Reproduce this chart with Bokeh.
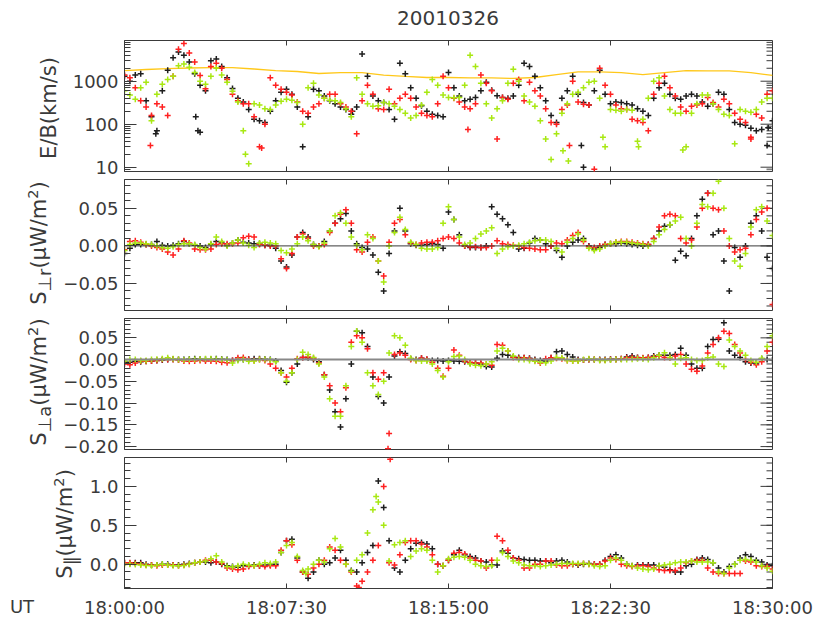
import math
from bokeh.plotting import figure
from bokeh.models import Range1d, FixedTicker, Span, Div
from bokeh.layouts import column, row
from bokeh.embed import file_html
from bokeh.resources import INLINE

# ---------------- data (minutes after 18:00:00 UT) ----------------
minutes = [i * 0.25 for i in range(121)]
x_tick_values = [0, 7.5, 15, 22.5, 30]
x_tick_labels = ["18:00:00", "18:07:30", "18:15:00", "18:22:30", "18:30:00"]

yellow_minutes = list(range(31))
eb_yellow = [1770, 1870, 1970, 2030, 2080, 2080, 1920, 1770, 1680, 1510,
             1590, 1590, 1390, 1290, 1220, 1220, 1190, 1190, 1160, 1220,
             1430, 1640, 1640, 1590, 1430, 1590, 1770, 1730, 1730, 1590, 1360]

eb_green = [600, 480, 380, 700, 950, 120, 500, 850,
            1100, 1300, 2300, 2500, 2100, 1600, 1000, 850,
            1300, 2000, 1400, 950, 580, 330, 70, 12,
            300, 280, 230, 220, 280, 340, 380, 360,
            320, 100, 700, 900, 480, 400, 360, 350,
            320, 230, 150, 1200, 500, 300, 260, 270,
            320, 300, 260, 220, 180, 140, 160, 280,
            550, 1100, 800, 480, 420, 410, 420, 800,
            4000, 2200, 900, 300, 140, 230, 350, 900,
            1900, 1000, 450, 330, 260, 120, 45, 15,
            60, 180, 300, 500, 550, 700, 950, 1000,
            400, 30, 220, 210, 200, 220, 210, 40,
            130, 400, 1000, 1200, 450, 220, 180, 180,
            30, 180, 300, 480, 480, 300, 220, 170,
            160, 35, 220, 200, 190, 220, 330, 400,
            400]
eb_black = [1300, 1000, 1400, 1500, 350, 150, 70, 600,
            1800, 3500, 4800, 4000, 2800, 1500, 800, 600,
            3000, 3300, 2200, 1200, 680, 400, 330, 220,
            130, 120, 110, 200, 350, 550, 650, 500,
            250, 30, 150, 650, 600, 450, 350, 300,
            250, 220, 170, 250, 4300, 1300, 450, 350,
            320, 220, 130, 2600, 1500, 700, 400, 270,
            200, 170, 160, 150, 1600, 700, 450, 350,
            380, 420, 600, 950, 620, 460, 420, 400,
            450, 800, 2600, 2200, 1300, 700, 350, 160,
            110, 400, 600, 1300, 500, 320, 280, 600,
            1800, 500, 300, 330, 320, 300, 280, 230,
            200, 160, 400, 700, 900, 500, 400, 380,
            450, 500, 450, 330, 260, 300, 550, 500,
            220, 110, 100, 95, 80, 70, 75, 32,
            120]
eb_red = [1400, 1200, 700, 350, 250, 160, 300, 250,
          160, 1300, 5500, 7500, 4500, 2800, 1350, 670,
          2200, 2600, 2000, 1100, 500, 350, 300, 300,
          150, 30, 100, 1200, 800, 650, 550, 480,
          330, 200, 180, 250, 300, 400, 500, 500,
          300, 250, 200, 60, 350, 800, 500, 230,
          220, 650, 300, 400, 500, 400, 250, 180,
          160, 150, 300, 1300, 700, 400, 330, 250,
          230, 300, 1400, 900, 600, 45, 420, 380,
          900, 1100, 350, 950, 600, 450, 230, 110,
          100, 220, 280, 1000, 330, 290, 280, 9,
          2000, 800, 500, 280, 230, 220, 130, 120,
          110, 70, 500, 900, 1300, 700, 450, 250,
          200, 260, 280, 300, 420, 320, 250, 380,
          300, 180, 130, 110, 50, 170, 140, 500,
          600]
eb_black_extra_min = [1.45, 3.3, 3.4, 3.5, 10.55, 21.15, 21.25, 29.8]
eb_black_extra = [60, 150, 70, 65, 200, 32, 10, 83]
eb_red_extra_min = [1.2, 15.9, 20.6, 29.0, 6.35]
eb_red_extra = [32, 75, 32, 45, 28]
eb_green_extra_min = [5.6, 20.3, 20.55, 22.15, 23.8, 25.85]
eb_green_extra = [20, 24, 14, 50, 30, 25]

sr_green = [-0.006, 0.002, 0.004, 0.004, 0.003, 0.002, 0.0, -0.002,
            -0.003, -0.001, 0.002, 0.003, 0.003, 0.002, -0.002, -0.004,
            0.003, 0.012, 0.006, 0.0, 0.004, 0.008, 0.004, 0.001,
            -0.002, 0.004, 0.005, 0.004, 0.003, -0.006, -0.009, -0.004,
            0.003, 0.012, 0.007, 0.002, -0.001, 0.004, 0.02, 0.04,
            0.044, 0.03, 0.012, 0.001, -0.005, 0.015, 0.01, -0.02,
            -0.048, 0.0, 0.018, 0.038, 0.022, 0.005, 0.002, -0.003,
            -0.004, -0.004, -0.002, 0.03, 0.052, 0.035, 0.012, 0.002,
            0.004, 0.01, 0.016, 0.02, 0.024, -0.01, -0.004, -0.001,
            0.0, 0.001, 0.003, 0.005, 0.007, 0.008, 0.008, 0.006,
            -0.003, -0.008, 0.005, 0.01, 0.016, 0.008, -0.003, -0.006,
            -0.004, 0.0, 0.003, 0.005, 0.005, 0.005, 0.004, 0.003,
            0.002, 0.0, 0.006, 0.015, 0.022, 0.028, 0.033, 0.038,
            0.01, 0.0, 0.03, 0.055, 0.052, 0.07, 0.086, 0.05,
            0.01, -0.02, -0.027, -0.01, 0.025, 0.048, 0.052, 0.033,
            0.014]
sr_black = [-0.01, -0.003, 0.002, 0.002, 0.002, 0.002, 0.006, 0.001,
            0.0, 0.001, 0.003, 0.006, 0.003, 0.001, 0.0, -0.002,
            0.002, 0.006, 0.004, 0.001, 0.004, 0.008, 0.005, 0.004,
            0.003, 0.003, 0.001, 0.001, -0.003, -0.02, -0.028, -0.012,
            0.012, 0.018, 0.012, 0.002, 0.0, 0.006, 0.02, 0.03,
            0.036, 0.043, 0.02, 0.003, -0.002, -0.004, -0.012, -0.035,
            -0.06, -0.01, 0.02, 0.05, 0.02, 0.003, 0.001, 0.001,
            0.002, 0.003, 0.002, -0.003, 0.045, 0.035, 0.015, 0.0,
            -0.002, -0.002, -0.002, 0.0, 0.052, 0.042, 0.036, 0.028,
            0.018, -0.004, -0.003, 0.004, 0.01, 0.008, 0.003, 0.0,
            -0.006, -0.015, 0.0, 0.005, 0.008, 0.01, 0.0, -0.004,
            -0.002, 0.002, 0.003, 0.003, 0.004, 0.003, 0.002, 0.001,
            0.0, 0.002, 0.01, 0.02, 0.026, 0.028, -0.019, -0.007,
            -0.013, 0.01, 0.04, 0.062, 0.07, 0.015, 0.02, -0.02,
            -0.06, -0.002, -0.015, 0.0, 0.03, 0.04, 0.02, -0.015,
            -0.03]
sr_red = [-0.005, 0.006, 0.007, 0.005, 0.002, 0.0, -0.002, -0.004,
          -0.008, -0.012, -0.004, 0.007, 0.004, -0.004, -0.005, -0.005,
          -0.004, 0.002, 0.003, 0.003, 0.003, 0.004, 0.011, 0.013,
          0.012, 0.002, 0.001, 0.0, 0.0, -0.017, -0.03, -0.01,
          0.012, 0.016, 0.01, 0.0, 0.0, 0.002, 0.018, 0.03,
          0.042, 0.048, 0.03, -0.005, -0.008, 0.005, 0.012, -0.02,
          -0.04, 0.005, 0.03, 0.035, 0.015, 0.004, 0.002, 0.004,
          0.005, 0.005, 0.007, 0.01, 0.012, 0.01, 0.004, 0.0,
          -0.001, -0.001, -0.002, -0.002, 0.0, 0.007, 0.003, 0.002,
          0.001, 0.0, -0.002, -0.003, -0.004, -0.005, -0.005, 0.0,
          0.004, 0.003, 0.008, 0.014, 0.018, 0.006, -0.001, -0.002,
          0.0, 0.002, 0.003, 0.005, 0.006, 0.006, 0.005, 0.004,
          0.003, 0.002, 0.01, 0.025, 0.04, 0.042, 0.04, 0.01,
          0.004, 0.008, 0.025, 0.05, 0.07, 0.05, 0.048, 0.02,
          0.0, -0.008, -0.005, -0.003, 0.015, 0.035, 0.045, 0.05,
          -0.078]

sa_green = [-0.003, 0.0, 0.0, -0.002, -0.002, 0.0, 0.001, 0.002,
            0.004, 0.002, 0.0, -0.001, 0.0, 0.0, 0.001, 0.002,
            0.002, 0.001, 0.0, -0.001, -0.008, -0.002, 0.0, -0.004,
            -0.003, 0.0, 0.0, -0.001, -0.005, -0.03, -0.05, -0.03,
            0.0, 0.017, 0.012, 0.005, -0.01, -0.04, -0.09, -0.13,
            -0.13, -0.06, 0.03, 0.066, 0.04, -0.03, -0.06, -0.08,
            -0.05, 0.015, 0.055, 0.05, 0.033, 0.003, -0.002, -0.003,
            -0.003, -0.01, -0.025, -0.04, -0.005, 0.007, 0.008, 0.0,
            -0.01, -0.013, -0.014, -0.01, -0.005, 0.02, 0.026, 0.02,
            0.008, 0.0, 0.0, -0.002, -0.004, -0.006, -0.007, -0.003,
            0.005, 0.004, -0.002, -0.003, -0.003, 0.0, 0.002, 0.0,
            -0.002, -0.002, -0.001, 0.0, 0.0, 0.0, 0.001, 0.002,
            0.002, 0.0, 0.004, 0.01, 0.016, 0.005, -0.01, 0.003,
            0.004, 0.0, -0.002, -0.002, 0.004, 0.006, -0.01, -0.016,
            0.045, 0.03, 0.02, 0.01, -0.002, -0.006, 0.003, 0.03,
            0.055]
sa_black = [-0.006, -0.006, -0.004, -0.005, -0.004, -0.003, -0.002, -0.001,
            0.0, 0.001, 0.0, 0.0, 0.001, 0.002, 0.001, 0.0,
            0.001, 0.002, 0.001, 0.0, -0.002, 0.0, 0.0, 0.001,
            0.002, 0.002, 0.001, 0.0, -0.003, -0.025, -0.052, -0.03,
            -0.01, 0.005, 0.004, 0.0, -0.005, -0.035, -0.07, -0.12,
            -0.155, -0.09, -0.01, 0.065, 0.062, 0.03, -0.04, -0.085,
            -0.1, -0.04, 0.008, 0.018, 0.014, 0.002, 0.0, 0.003,
            0.0, -0.002, -0.002, -0.003, -0.002, -0.003, -0.004, -0.005,
            -0.007, -0.008, -0.01, -0.016, -0.017, 0.003, 0.012, 0.01,
            0.006, 0.005, 0.004, 0.003, 0.0, -0.002, -0.003, 0.004,
            0.018, 0.02, 0.012, 0.006, 0.0, -0.001, 0.0, 0.0,
            0.0, 0.0, 0.001, 0.001, 0.002, 0.006, 0.008, 0.005,
            0.003, 0.005, 0.008, 0.01, 0.01, 0.01, 0.012, 0.026,
            0.01, -0.01, -0.02, -0.02, 0.03, 0.046, 0.047, 0.085,
            0.02, 0.01, 0.005, -0.005, -0.008, -0.008, 0.002, 0.0,
            -0.001]
sa_red = [-0.01, -0.012, -0.008, -0.004, -0.004, -0.003, -0.002, 0.0,
          0.0, 0.0, -0.001, -0.003, -0.004, -0.003, -0.002, -0.003,
          -0.003, -0.004, -0.006, -0.007, -0.002, 0.004, 0.005, 0.0,
          -0.002, 0.0, -0.002, -0.01, -0.02, -0.03, -0.04, -0.02,
          0.002, 0.005, 0.006, 0.003, -0.008, -0.035, -0.06, -0.1,
          -0.12, -0.065, 0.04, 0.055, 0.05, 0.025, -0.03, -0.045,
          -0.03, -0.17, 0.012, 0.015, 0.01, 0.0, -0.002, 0.003,
          0.001, -0.006, -0.02, -0.038, -0.02, 0.022, 0.01, -0.003,
          -0.006, -0.008, -0.008, -0.01, -0.013, 0.035, 0.033, 0.02,
          0.005, 0.003, 0.004, 0.002, -0.002, -0.008, 0.002, 0.004,
          0.003, 0.002, -0.002, -0.003, -0.002, -0.001, 0.0, 0.0,
          -0.001, -0.001, 0.0, 0.0, 0.002, 0.004, 0.005, 0.004,
          0.004, 0.005, 0.006, 0.008, 0.005, 0.004, 0.008, 0.012,
          -0.01, -0.022, -0.027, -0.015, 0.015, 0.035, 0.05, 0.065,
          0.06, 0.035, 0.015, 0.0, -0.006, -0.012, -0.005, 0.02,
          0.04]
sa_red_extra_min = [12.2]
sa_red_extra = [-0.205]

sp_green = [-0.005, 0.0, -0.005, -0.01, -0.015, -0.02, -0.01, 0.0,
            -0.01, -0.02, -0.02, -0.015, 0.0, 0.02, 0.03, 0.04,
            0.07, 0.11, 0.03, -0.03, -0.035, -0.02, 0.0, -0.01,
            -0.02, 0.0, 0.02, 0.01, 0.03, 0.15, 0.24, 0.28,
            0.1, -0.08, -0.06, 0.0, 0.05, 0.03, 0.2, 0.33,
            0.22, 0.0, -0.09, 0.05, 0.12, 0.4, 0.7, 0.8,
            0.5, 0.04, 0.25, 0.28, 0.3, 0.1, 0.17, 0.2,
            0.18, 0.05, -0.1, -0.02, 0.07, 0.09, 0.1, 0.09,
            0.05, 0.0, -0.02, -0.03, -0.02, 0.05, 0.15, 0.1,
            0.04, 0.02, -0.01, -0.02, -0.02, -0.03, -0.02, -0.01,
            0.0, 0.01, 0.01, 0.01, 0.01, 0.01, 0.0, -0.02,
            -0.03, -0.02, 0.05, 0.08, 0.05, 0.0, -0.02, -0.05,
            -0.06, -0.07, -0.06, -0.02, -0.01, 0.0, 0.02, 0.03,
            0.03, 0.04, 0.03, 0.03, 0.03, 0.02, -0.1, -0.12,
            -0.05, 0.0, 0.05, 0.06, 0.05, 0.03, -0.02, -0.05,
            -0.09]
sp_green_extra_min = [8.4, 11.65]
sp_green_extra = [-0.12, 0.87]
sp_black = [0.02, 0.01, 0.02, 0.02, 0.0, -0.01, -0.01, 0.0,
            0.0, -0.01, -0.01, 0.0, 0.01, 0.02, 0.03, 0.03,
            0.02, 0.03, 0.0, -0.02, -0.03, -0.04, -0.02, -0.02,
            -0.01, -0.02, -0.01, -0.01, 0.0, 0.15, 0.3, 0.32,
            0.08, -0.1, -0.18, -0.1, 0.05, 0.0, 0.02, 0.08,
            0.18, 0.05, -0.08, -0.1, 0.02, 0.15, 0.24, 1.07,
            0.73, 0.3, -0.05, -0.1, 0.05, 0.2, 0.27, 0.28,
            0.26, 0.2, 0.0, -0.02, 0.05, 0.12, 0.18, 0.12,
            0.1, 0.08, 0.04, 0.03, -0.01, -0.01, 0.17, 0.14,
            0.08, 0.07, 0.06, 0.05, 0.05, 0.04, 0.04, 0.02,
            0.04, 0.05, 0.03, 0.0, -0.01, 0.0, 0.01, 0.0,
            0.0, 0.05, 0.1, 0.12, 0.08, 0.0, -0.02, -0.01,
            -0.01, -0.01, -0.01, -0.02, -0.04, -0.07, -0.1, -0.1,
            -0.02, 0.0, 0.06, 0.08, 0.06, 0.02, -0.05, -0.1,
            -0.03, 0.0, 0.08, 0.12, 0.1, 0.05, 0.03, -0.01,
            -0.02]
sp_red = [0.02, 0.02, 0.01, 0.0, -0.01, -0.01, -0.02, -0.01,
          -0.01, -0.01, -0.02, -0.01, 0.0, 0.02, 0.03, 0.05,
          0.05, 0.03, 0.01, -0.05, -0.06, -0.07, -0.06, -0.03,
          -0.02, -0.02, -0.03, -0.02, -0.02, 0.18, 0.3, 0.25,
          0.05, -0.1, -0.13, -0.05, 0.0, 0.05, 0.22, 0.18,
          0.05, 0.0, -0.1, -0.28, -0.22, -0.1, 0.05, 0.24,
          1.0, 0.02, -0.01, 0.12, 0.28, 0.3, 0.3, 0.26,
          0.22, 0.12, 0.0, -0.02, 0.05, 0.14, 0.15, 0.13,
          0.08, 0.05, 0.04, -0.05, 0.05, 0.36, 0.3, 0.18,
          0.08, 0.05, -0.05, -0.05, 0.0, 0.0, 0.04, 0.04,
          -0.01, -0.02, -0.02, 0.0, 0.0, 0.01, 0.0, 0.0,
          0.0, 0.04, 0.08, 0.06, 0.0, -0.02, -0.03, -0.02,
          -0.02, -0.03, -0.05, -0.07, -0.08, -0.08, -0.08, -0.05,
          0.02, 0.04, 0.05, 0.05, -0.05, -0.1, -0.12, -0.12,
          -0.12, -0.12, -0.12, 0.04, 0.03, -0.02, -0.03, -0.03,
          -0.06]
sp_red_extra_min = [12.3, 10.85]
sp_red_extra = [1.35, -0.3]

# ---------------- styling / layout ----------------
FONT = "DejaVu Sans"
INK = "#3a3a3a"
C_BLACK = "#1e1e1e"
C_RED = "#ff2020"
C_GREEN = "#a8e812"
C_YELLOW = "#ffc81a"

FRAME_LEFT, FRAME_W, FRAME_H = 124, 648, 131
Y_RANGES = [(7.94, 8845.0), (-0.0860, 0.0884), (-0.2067, 0.0945), (-0.312, 1.371)]
X_TICK_LEN, Y_MAJOR_LEN, Y_MINOR_LEN = 5, 12, 6

x_range = Range1d(0, 30)


def make_panel(idx, yticks, ylabels, yminor, label_w, top_border, bottom_border, x_labels=False):
    lo, hi = Y_RANGES[idx]
    log = idx == 0
    p = figure(frame_width=FRAME_W, frame_height=FRAME_H,
               min_border_left=FRAME_LEFT - label_w, min_border_right=42,
               min_border_top=top_border, min_border_bottom=bottom_border,
               x_range=x_range, y_range=Range1d(lo, hi),
               y_axis_type="log" if log else "linear",
               output_backend="svg", toolbar_location=None,
               background_fill_color="white", border_fill_color="white")
    p.outline_line_color = INK
    p.outline_line_width = 1
    p.grid.visible = False

    ya = p.yaxis[0]
    ya.ticker = FixedTicker(ticks=yticks, minor_ticks=yminor)
    ya.major_tick_in, ya.major_tick_out = Y_MAJOR_LEN, 0
    ya.minor_tick_in, ya.minor_tick_out = Y_MINOR_LEN, 0
    ya.axis_line_color = INK
    ya.major_tick_line_color = INK
    ya.minor_tick_line_color = INK
    ya.major_label_text_font = FONT
    ya.major_label_text_font_size = "18px"
    ya.major_label_text_color = INK
    ya.major_label_standoff = 6
    ya.major_label_overrides = dict(zip(yticks, ylabels))

    xa = p.xaxis[0]
    if x_labels:
        xa.ticker = FixedTicker(ticks=x_tick_values)
        xa.major_tick_in, xa.major_tick_out = X_TICK_LEN, 0
        xa.minor_tick_in, xa.minor_tick_out = 0, 0
        xa.axis_line_color = INK
        xa.major_tick_line_color = INK
        xa.major_label_text_font = FONT
        xa.major_label_text_font_size = "18px"
        xa.major_label_text_color = INK
        xa.major_label_standoff = 8
        xa.major_label_overrides = dict(zip(x_tick_values, x_tick_labels))
    else:
        xa.visible = False

    # inward tick marks on the unlabelled sides
    if log:
        f = 10 ** (X_TICK_LEN * (math.log10(hi) - math.log10(lo)) / FRAME_H)
        top_in, bot_in = hi / f, lo * f
    else:
        d = X_TICK_LEN * (hi - lo) / FRAME_H
        top_in, bot_in = hi - d, lo + d
    n = len(x_tick_values)
    p.segment(x_tick_values, [hi] * n, x_tick_values, [top_in] * n, line_color=INK, line_width=1)
    if not x_labels:
        p.segment(x_tick_values, [lo] * n, x_tick_values, [bot_in] * n, line_color=INK, line_width=1)
    maj_dx = Y_MAJOR_LEN * 30.0 / FRAME_W
    min_dx = Y_MINOR_LEN * 30.0 / FRAME_W
    p.segment([30] * len(yticks), yticks, [30 - maj_dx] * len(yticks), yticks, line_color=INK, line_width=1)
    p.segment([30] * len(yminor), yminor, [30 - min_dx] * len(yminor), yminor, line_color=INK, line_width=1)
    return p


def scatter_series(p, xs, ys, color):
    p.scatter(xs, ys, marker="cross", size=6, line_color=color, line_width=1.5)


TEXT_CSS = "white-space:nowrap;font-family:'DejaVu Sans';color:#3a3a3a;line-height:1;"
SUB = '<sub style="font-size:85%;vertical-align:-0.32em;">{}</sub>'
SUP = '<sup style="font-size:70%;vertical-align:0.55em;">{}</sup>'


def text_block(html, cx, cy, size, rotate):
    tr = "translate(-50%,-50%)" + (" rotate(-90deg)" if rotate else "")
    return (f'<div style="position:absolute;left:{cx}px;top:{cy}px;transform:{tr};'
            f'font-size:{size}px;{TEXT_CSS}">{html}</div>')


def label_div(width, height, blocks):
    inner = "".join(blocks)
    return Div(text=f'<div style="position:relative;width:{width}px;height:{height}px;">{inner}</div>',
               width=width, height=height, margin=0)


UNITS = "(\u03bcW/m" + SUP.format("2") + ")"

# ---------------- title ----------------
title_div = label_div(814, 39, [text_block("20010326", 448, 18, 20, False)])

# ---------------- panel 1: E/B ----------------
LW1, H1 = 62, 139
p1 = make_panel(0, [10, 100, 1000], ["10", "100", "1000"],
                [8, 9] + [k * 10 for k in range(2, 10)] + [k * 100 for k in range(2, 10)]
                + [k * 1000 for k in range(2, 9)], LW1, top_border=1, bottom_border=7)
p1.line(yellow_minutes, eb_yellow, line_color=C_YELLOW, line_width=1.3)
scatter_series(p1, minutes, eb_black, C_BLACK)
scatter_series(p1, eb_black_extra_min, eb_black_extra, C_BLACK)
scatter_series(p1, minutes, eb_red, C_RED)
scatter_series(p1, eb_red_extra_min, eb_red_extra, C_RED)
scatter_series(p1, minutes, eb_green, C_GREEN)
scatter_series(p1, eb_green_extra_min, eb_green_extra, C_GREEN)
d1 = label_div(LW1, H1, [text_block("E/B(km/s)", 49, 69, 21, True)])

# ---------------- panel 2: S perp r ----------------
LW2, H2 = 58, 136
p2 = make_panel(1, [-0.05, 0.0, 0.05], ["\u22120.05", "0.00", "0.05"],
                [round(-0.08 + 0.01 * k, 2) for k in range(17)], LW2, top_border=1, bottom_border=4)
p2.add_layout(Span(location=0, dimension="width", line_color=INK, line_width=1))
scatter_series(p2, minutes, sr_black, C_BLACK)
scatter_series(p2, minutes, sr_red, C_RED)
scatter_series(p2, minutes, sr_green, C_GREEN)
d2 = label_div(LW2, H2, [text_block("S" + SUB.format("\u22a5r") + UNITS, 40, 65, 21, True)])

# ---------------- panel 3: S perp a ----------------
LW3, H3 = 58, 143
p3 = make_panel(2, [-0.2, -0.15, -0.1, -0.05, 0.0, 0.05],
                ["\u22120.20", "\u22120.15", "\u22120.10", "\u22120.05", "0.00", "0.05"],
                [round(-0.20 + 0.01 * k, 2) for k in range(30)], LW3, top_border=4, bottom_border=8)
p3.add_layout(Span(location=0, dimension="width", line_color="#888888", line_width=2))
scatter_series(p3, minutes, sa_black, C_BLACK)
scatter_series(p3, minutes, sa_red, C_RED)
scatter_series(p3, sa_red_extra_min, sa_red_extra, C_RED)
scatter_series(p3, minutes, sa_green, C_GREEN)
d3 = label_div(LW3, H3, [text_block("S" + SUB.format("\u22a5a") + UNITS, 40, 68, 21, True)])

# ---------------- panel 4: S parallel ----------------
LW4, H4 = 82, 161
p4 = make_panel(3, [0.0, 0.5, 1.0], ["0.0", "0.5", "1.0"],
                [round(-0.3 + 0.1 * k, 1) for k in range(17)], LW4, top_border=0, bottom_border=30,
                x_labels=True)
scatter_series(p4, minutes, sp_black, C_BLACK)
scatter_series(p4, minutes, sp_red, C_RED)
scatter_series(p4, sp_red_extra_min, sp_red_extra, C_RED)
scatter_series(p4, minutes, sp_green, C_GREEN)
scatter_series(p4, sp_green_extra_min, sp_green_extra, C_GREEN)
d4 = label_div(LW4, H4, [text_block("S" + SUB.format("\u2225") + UNITS, 66, 67, 21, True),
                         text_block("UT", 22, 150, 18, False)])

layout = column(title_div, row(d1, p1), row(d2, p2), row(d3, p3), row(d4, p4))
open("out.html", "w").write(file_html(layout, INLINE))
